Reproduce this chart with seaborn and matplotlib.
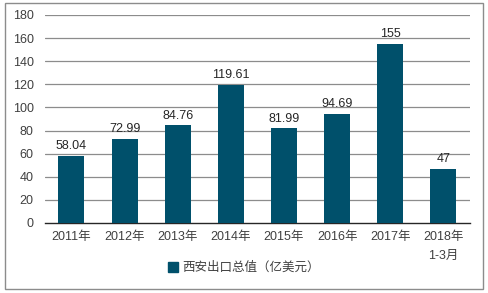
import matplotlib
matplotlib.use("Agg")
import matplotlib.pyplot as plt
import seaborn as sns
import pandas as pd
from matplotlib.patches import Rectangle

categories = ["2011年", "2012年", "2013年", "2014年", "2015年", "2016年", "2017年", "2018年\n1-3月"]
values = [58.04, 72.99, 84.76, 119.61, 81.99, 94.69, 155, 47]
value_labels = ["58.04", "72.99", "84.76", "119.61", "81.99", "94.69", "155", "47"]
series_name = "西安出口总值（亿美元）"
yticks = [0, 20, 40, 60, 80, 100, 120, 140, 160, 180]

sns.set_theme(style="white")
plt.rcParams['font.family'] = ['Liberation Sans', 'Noto Sans CJK SC', 'DejaVu Sans']

color = "#00506B"
df = pd.DataFrame({"cat": categories, "val": values})

fig = plt.figure(figsize=(4.88, 2.93), dpi=100)
ax = fig.add_axes([0.092, 0.239, 0.871, 0.71])

sns.barplot(data=df, x="cat", y="val", color=color, width=0.49, ax=ax,
            saturation=1, zorder=3, edgecolor="none", linewidth=0)

ax.set_ylim(0, 180)
ax.set_yticks(yticks)
ax.set_yticklabels([str(t) for t in yticks], fontsize=9, color="#404040")
ax.tick_params(axis='x', labelsize=9, labelcolor="#404040", length=0, pad=6)
ax.tick_params(axis='y', length=0, pad=8)
for lab in ax.get_xticklabels():
    lab.set_linespacing(1.7)
for t in yticks[1:]:
    ax.axhline(t, color="#8c8c8c", lw=0.9, zorder=1)
for s in ["top", "right", "left"]:
    ax.spines[s].set_visible(False)
ax.spines["bottom"].set_color("#262626")
ax.spines["bottom"].set_linewidth(1.0)
ax.set_xlabel("")
ax.set_ylabel("")

for i, (v, lab) in enumerate(zip(values, value_labels)):
    ax.text(i, v + 3, lab, ha="center", va="bottom", fontsize=9, color="#262626")

handle = Rectangle((0, 0), 1, 1, color=color)
fig.legend([handle], [series_name], loc="center", bbox_to_anchor=(0.5, 0.085),
           frameon=False, fontsize=9, handlelength=0.8, handleheight=0.8,
           handletextpad=0.3, labelcolor="#404040")

border = Rectangle((0.01, 0.015), 0.98, 0.975, transform=fig.transFigure,
                   fill=False, edgecolor="#8c8c8c", lw=1.0)
fig.patches.append(border)

fig.savefig("out.png", dpi=100)
